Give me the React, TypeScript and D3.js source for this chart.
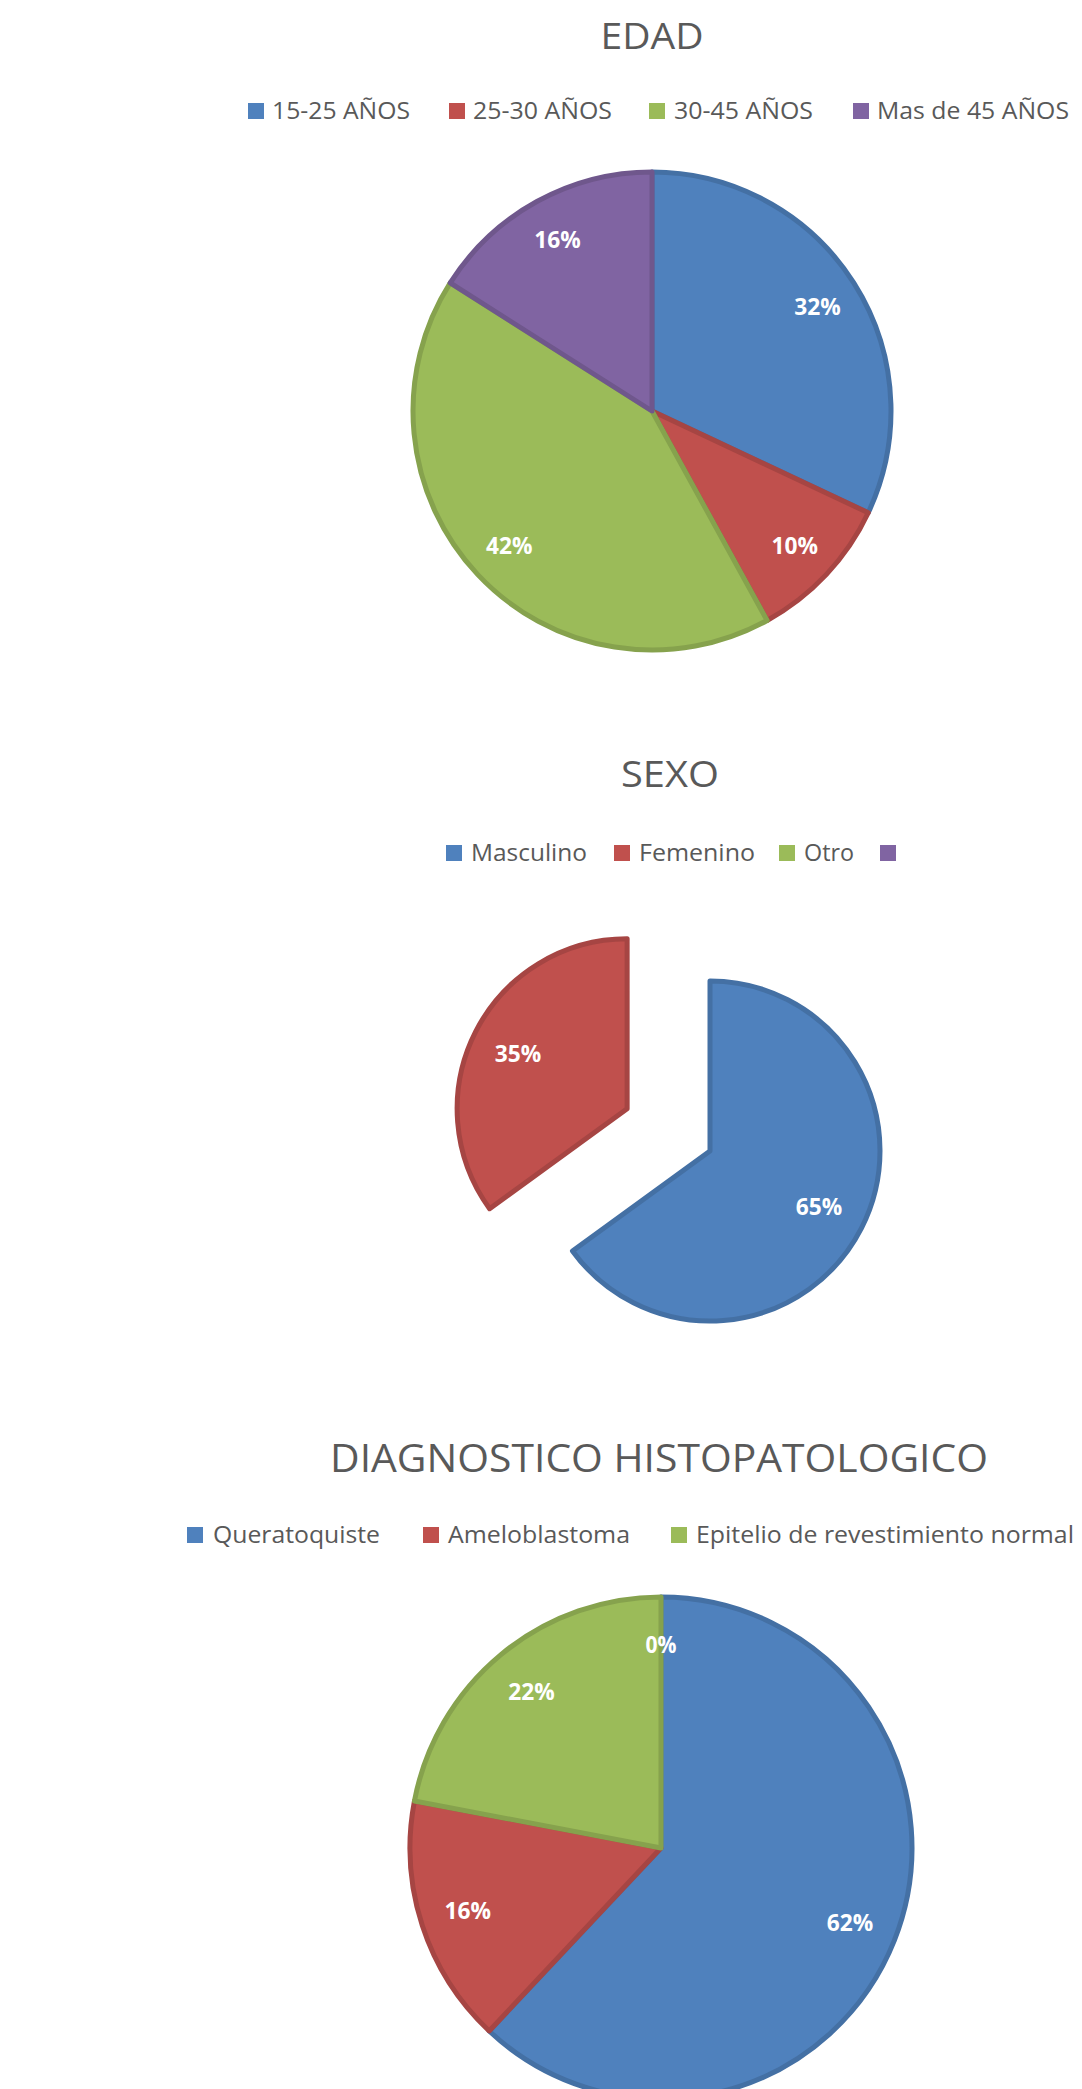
import React from "react";
import * as d3 from "d3";

// ---------- data ----------
const edadCategories = ["15-25 AÑOS", "25-30 AÑOS", "30-45 AÑOS", "Mas de 45 AÑOS"];
const edadValues = [32, 10, 42, 16];

const sexoCategories = ["Masculino", "Femenino", "Otro", ""];
const sexoValues = [65, 35, 0, 0];

const diagCategories = ["Queratoquiste", "Ameloblastoma", "Epitelio de revestimiento normal", ""];
const diagValues = [62, 16, 22, 0];

// ---------- styles ----------
const palette = ["#4F81BD", "#C0504D", "#9BBB59", "#8064A2"];
const FONT = "'Open Sans', 'Noto Sans', sans-serif";
const GRAY = "#595959";

// ---------- layout ----------
const W = 1082;
const H = 2089;

type ChartCfg = {
  title: string;
  titleX: number;
  titleY: number;
  titleSize: number;
  titleWidth: number;
  categories: string[];
  values: number[];
  legendY: number;
  legendSquareX: number[];
  legendTextX: number[];
  legendTextW: number[];
  cx: number;
  cy: number;
  r: number;
  labelFactor: number;
  explode: number[];
  showZero: boolean;
};

const charts: ChartCfg[] = [
  {
    title: "EDAD",
    titleX: 652,
    titleY: 49,
    titleSize: 36,
    titleWidth: 103,
    categories: edadCategories,
    values: edadValues,
    legendY: 111,
    legendSquareX: [248, 449, 649, 853],
    legendTextX: [272, 473, 674, 877],
    legendTextW: [138, 139, 139, 192],
    cx: 652,
    cy: 411,
    r: 239,
    labelFactor: 0.82,
    explode: [0, 0, 0, 0],
    showZero: false,
  },
  {
    title: "SEXO",
    titleX: 670,
    titleY: 787,
    titleSize: 36,
    titleWidth: 98,
    categories: sexoCategories,
    values: sexoValues,
    legendY: 853,
    legendSquareX: [446, 614, 779, 880],
    legendTextX: [471, 639, 804, 905],
    legendTextW: [116, 116, 50, 0],
    cx: 710,
    cy: 1151,
    r: 170,
    labelFactor: 0.72,
    explode: [0, 93, 0, 0],
    showZero: false,
  },
  {
    title: "DIAGNOSTICO HISTOPATOLOGICO",
    titleX: 659,
    titleY: 1472,
    titleSize: 39,
    titleWidth: 658,
    categories: diagCategories,
    values: diagValues,
    legendY: 1535,
    legendSquareX: [187, 423, 671],
    legendTextX: [213, 448, 696],
    legendTextW: [167, 182, 378],
    cx: 661,
    cy: 1848,
    r: 251,
    labelFactor: 0.81,
    explode: [0, 0, 0, 0],
    showZero: true,
  },
];

function PieChart({ cfg }: { cfg: ChartCfg }) {
  const pie = d3
    .pie<number>()
    .sort(null)
    .value((d) => d)
    .startAngle(0)
    .endAngle(2 * Math.PI);
  const arcs = pie(cfg.values);
  const arc = d3.arc<d3.PieArcDatum<number>>().innerRadius(0).outerRadius(cfg.r);
  const labelArc = d3
    .arc<d3.PieArcDatum<number>>()
    .innerRadius(cfg.r * cfg.labelFactor)
    .outerRadius(cfg.r * cfg.labelFactor);

  const offset = (a: d3.PieArcDatum<number>, i: number) => {
    const mid = (a.startAngle + a.endAngle) / 2;
    const e = cfg.explode[i] || 0;
    return [Math.sin(mid) * e, -Math.cos(mid) * e];
  };

  const sq = 16;

  return (
    <g>
      <text
        x={cfg.titleX}
        y={cfg.titleY}
        textAnchor="middle"
        fontFamily={FONT}
        fontSize={cfg.titleSize}
        fill={GRAY}
        textLength={cfg.titleWidth}
        lengthAdjust="spacingAndGlyphs"
      >
        {cfg.title}
      </text>

      {cfg.legendSquareX.map((x, i) => (
        <g key={"lg" + i}>
          <rect
            x={x}
            y={cfg.legendY - sq / 2}
            width={sq}
            height={sq}
            fill={palette[i]}
          />
          {cfg.categories[i] ? (
            <text
              x={cfg.legendTextX[i]}
              y={cfg.legendY}
              dy="0.36em"
              fontFamily={FONT}
              fontSize={23}
              fill={GRAY}
              textLength={cfg.legendTextW[i]}
              lengthAdjust="spacingAndGlyphs"
            >
              {cfg.categories[i]}
            </text>
          ) : null}
        </g>
      ))}

      <g transform={`translate(${cfg.cx},${cfg.cy})`}>
        {arcs.map((a, i) => {
          if (a.value <= 0) return null;
          const [ox, oy] = offset(a, i);
          const c = d3.color(palette[i])!;
          return (
            <path
              key={"s" + i}
              d={arc(a) || ""}
              transform={`translate(${ox},${oy})`}
              fill={palette[i]}
              stroke={c.darker(0.4).toString()}
              strokeWidth={5}
              strokeLinejoin="round"
            />
          );
        })}
        {arcs.map((a, i) => {
          if (a.value <= 0 && !cfg.showZero) return null;
          const [ox, oy] = offset(a, i);
          const [lx, ly] = labelArc.centroid(a);
          const txt = `${a.value}%`;
          return (
            <text
              key={"l" + i}
              x={lx + ox}
              y={ly + oy}
              dy="0.36em"
              textAnchor="middle"
              fontFamily={FONT}
              fontWeight={700}
              fontSize={24}
              fill="#ffffff"
              textLength={txt.length * 15.5}
              lengthAdjust="spacingAndGlyphs"
            >
              {txt}
            </text>
          );
        })}
      </g>
    </g>
  );
}

export default function App() {
  return (
    <div style={{ position: "absolute", left: 0, top: 0, width: W, height: H, background: "#ffffff" }}>
      <svg width={W} height={H} viewBox={`0 0 ${W} ${H}`} style={{ display: "block" }}>
        <rect x={0} y={0} width={W} height={H} fill="#ffffff" />
        {charts.map((c, i) => (
          <PieChart key={i} cfg={c} />
        ))}
      </svg>
    </div>
  );
}
